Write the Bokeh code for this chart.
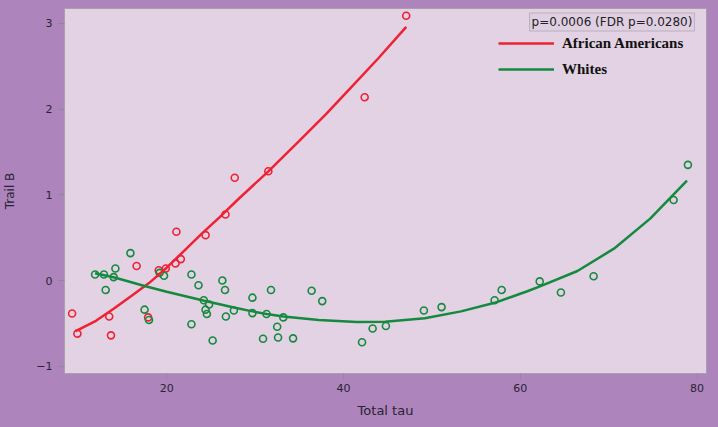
from bokeh.plotting import figure
from bokeh.models import Range1d, FixedTicker, Legend, LegendItem, Label
from bokeh.embed import file_html
from bokeh.resources import INLINE

# --- data ---
aa_tau = [9.3, 9.9, 13.5, 13.7, 16.6, 17.9, 19.1, 19.9, 21.0, 21.6, 21.1, 24.4, 26.65, 27.7, 31.5, 42.4, 47.1]
aa_trail = [-0.385, -0.62, -0.42, -0.64, 0.17, -0.43, 0.12, 0.14, 0.2, 0.25, 0.57, 0.53, 0.77, 1.2, 1.275, 2.14, 3.09]

wh_tau = [11.9, 12.9, 14.2, 14.0, 15.9, 13.1, 17.5, 18.0, 19.2, 19.7, 22.8, 23.6, 22.8, 24.2, 24.4,
          24.55, 24.8, 25.2, 26.3, 26.6, 26.7, 27.6, 29.7, 29.7, 30.9, 31.3, 31.8, 32.5, 32.6, 33.2,
          34.3, 36.4, 37.6, 42.1, 43.3, 44.8, 49.1, 51.1, 57.1, 57.9, 62.2, 64.6, 68.3, 77.35, 78.97]
wh_trail = [0.07, 0.07, 0.14, 0.04, 0.32, -0.11, -0.34, -0.46, 0.09, 0.055, 0.07, -0.055, -0.51, -0.23, -0.34,
            -0.39, -0.28, -0.70, 0.0, -0.11, -0.42, -0.35, -0.20, -0.38, -0.68, -0.39, -0.11, -0.54, -0.665, -0.43,
            -0.675, -0.12, -0.24, -0.72, -0.56, -0.53, -0.35, -0.31, -0.23, -0.11, -0.01, -0.14, 0.05, 0.94, 1.35]

# fitted curves
aa_fit_x = [9.7, 12, 14, 16, 18, 20, 22, 24, 26, 28, 31.5, 35, 38, 41, 44, 47.1]
aa_fit_y = [-0.59, -0.47, -0.33, -0.18, -0.03, 0.15, 0.35, 0.55, 0.74, 0.94, 1.275, 1.63, 1.94, 2.27, 2.6, 2.96]
wh_fit_x = [11.9, 14.1, 17.4, 20, 24.25, 27.6, 29.7, 31.3, 33.2, 37.2, 41.5, 44.7, 49.2, 53.3, 57.1,
            60.8, 62.3, 66.47, 70.6, 74.7, 78.86]
wh_fit_y = [0.085, 0.035, -0.06, -0.13, -0.235, -0.315, -0.36, -0.39, -0.42, -0.46, -0.485, -0.48, -0.44, -0.36, -0.26,
            -0.125, -0.065, 0.111, 0.372, 0.723, 1.167]

x_ticks = [20, 40, 60, 80]
y_ticks = [-1, 0, 1, 2, 3]

RED = "#ee2233"
GREEN = "#148a3e"
OUTER = "#ad84bb"
INNER = "#e3d1e4"
FONT = "DejaVu Sans"

p = figure(width=718, height=427, output_backend="svg", toolbar_location=None,
           x_range=Range1d(8.44, 81.07), y_range=Range1d(-1.085, 3.175),
           min_border_left=62, min_border_right=12, min_border_top=8, min_border_bottom=54)
p.background_fill_color = INNER
p.border_fill_color = OUTER
p.outline_line_color = "#a8a0aa"
p.xgrid.visible = False
p.ygrid.visible = False

for ax in (p.xaxis[0], p.yaxis[0]):
    ax.axis_line_color = "#a8a0aa"
    ax.major_tick_line_color = "#8a8a9a"
    ax.minor_tick_line_color = None
    ax.major_tick_in = 0
    ax.major_tick_out = 6
    ax.major_label_text_font = FONT
    ax.major_label_text_font_size = "11px"
    ax.major_label_text_color = "#2a2235"
    ax.axis_label_text_font = FONT
    ax.axis_label_text_font_style = "normal"
    ax.axis_label_text_color = "#2a2235"

p.xaxis.axis_label_text_font_size = "13px"
p.yaxis.axis_label_text_font_size = "12px"
p.xaxis.ticker = FixedTicker(ticks=x_ticks)
p.yaxis.ticker = FixedTicker(ticks=y_ticks)
p.xaxis.axis_label = "Total tau"
p.yaxis.axis_label = "Trail B"
p.xaxis.major_label_standoff = 4
p.yaxis.major_label_standoff = 6
p.xaxis.axis_label_standoff = 8
p.yaxis.axis_label_standoff = 16

p.scatter(aa_tau, aa_trail, marker="circle", size=7, fill_color=None, line_color=RED, line_width=1.6)
p.scatter(wh_tau, wh_trail, marker="circle", size=7, fill_color=None, line_color=GREEN, line_width=1.6)
r_aa = p.line(aa_fit_x, aa_fit_y, line_color=RED, line_width=2.5)
r_wh = p.line(wh_fit_x, wh_fit_y, line_color=GREEN, line_width=2.5)

legend = Legend(items=[LegendItem(label="African Americans", renderers=[r_aa]),
                       LegendItem(label="Whites", renderers=[r_wh])],
                location=(434, 294))
legend.background_fill_alpha = 0
legend.border_line_color = None
legend.padding = 0
legend.spacing = 6
legend.label_height = 20
legend.glyph_width = 56
legend.glyph_height = 20
legend.label_standoff = 8
legend.label_text_font = "Liberation Serif"
legend.label_text_font_style = "bold"
legend.label_text_font_size = "15px"
legend.label_text_color = "#111111"
p.add_layout(legend)

lbl = Label(x=547.5, y=351.5, x_units="screen", y_units="screen",
            text="p=0.0006 (FDR p=0.0280)", text_font=FONT, text_font_size="12px",
            text_align="center", text_baseline="middle",
            text_color="#222222", background_fill_color="#e0cfe2",
            border_line_color="#b8b0ba", border_line_width=1, padding=2)
p.add_layout(lbl)

html = file_html(p, INLINE)
html = html.replace("<head>", "<head><style>html,body{background:#ad84bb;}</style>", 1)
open("out.html", "w").write(html)
